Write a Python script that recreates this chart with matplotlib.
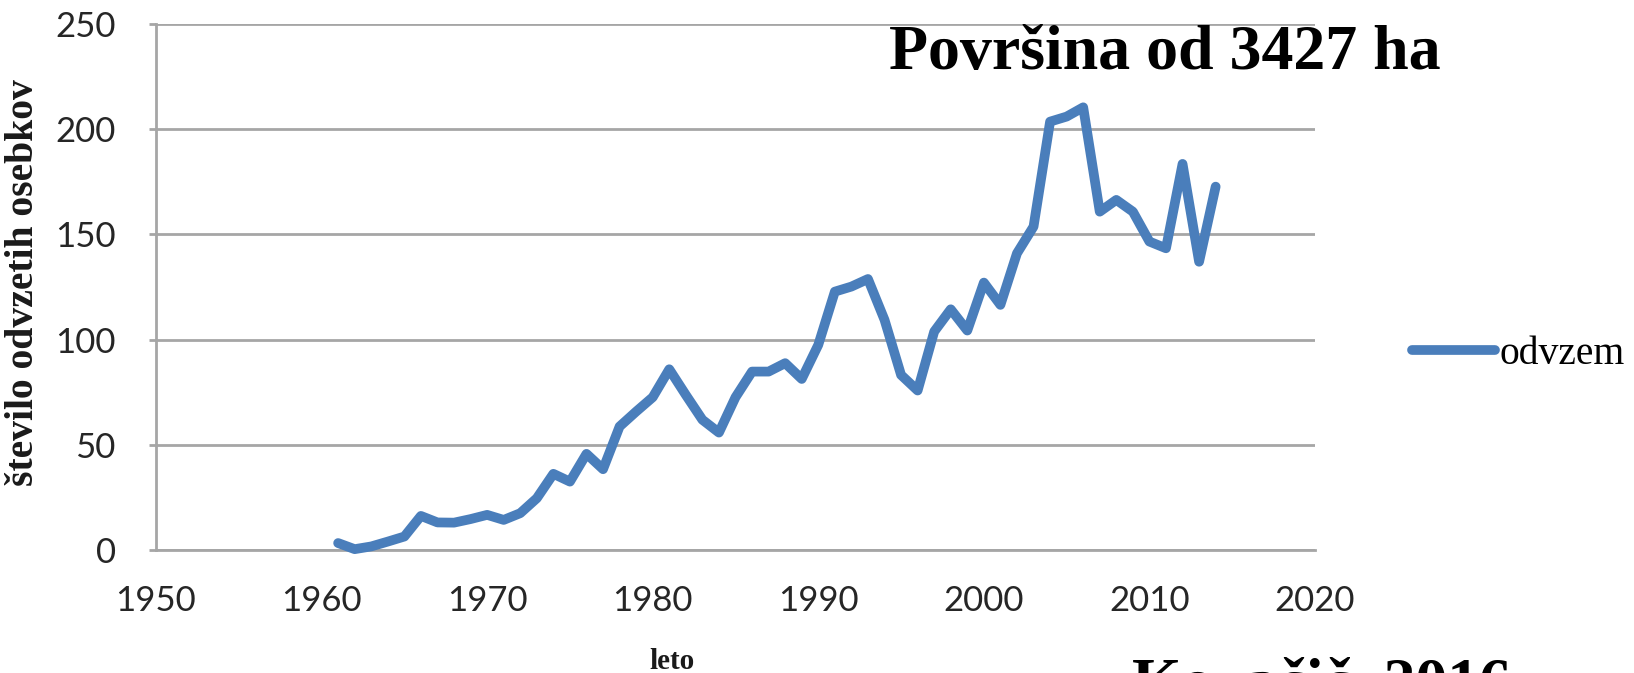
import matplotlib
matplotlib.use("Agg")
import matplotlib.pyplot as plt

years = list(range(1961, 2015))
odvzem = [3.3, 0.4, 1.7, 4.0, 6.4, 16.2, 13.1, 13.0, 14.7, 16.7,
          14.3, 17.5, 24.6, 36.2, 32.5, 45.7, 38.4, 58.7, 65.8, 72.6,
          85.9, 73.7, 61.9, 55.8, 72.6, 84.8, 84.8, 88.8, 81.3, 97.5,
          122.8, 125.2, 128.8, 109.4, 83.2, 75.8, 103.8, 114.4, 104.3, 127.1,
          116.5, 141.0, 153.7, 203.6, 206.0, 210.4, 160.8, 166.4, 160.8, 146.6,
          143.4, 183.5, 137.0, 172.7]
x_ticks = [1950, 1960, 1970, 1980, 1990, 2000, 2010, 2020]
y_ticks = [0, 50, 100, 150, 200, 250]

W, H = 1634, 673
fig = plt.figure(figsize=(W / 100, H / 100), dpi=100)
ax = fig.add_axes([156 / W, 1 - 550 / H, (1315 - 156) / W, (550 - 24) / H])

line_color = "#4A7EBB"
grid_color = "#A6A6A6"
ax.plot(years, odvzem, color=line_color, lw=7, solid_joinstyle="round",
        solid_capstyle="round", label="odvzem", zorder=3, clip_on=False)

ax.set_xlim(1950, 2020)
ax.set_ylim(0, 250)
ax.set_xticks(x_ticks)
ax.set_yticks(y_ticks)
ax.yaxis.grid(True, color=grid_color, lw=2)
ax.set_axisbelow(True)
for s in ["top", "right"]:
    ax.spines[s].set_visible(False)
for s in ["left", "bottom"]:
    ax.spines[s].set_color(grid_color)
    ax.spines[s].set_linewidth(2)

tick_font = dict(family="Lato", size=25, color="#262626")
ax.set_xticklabels([str(v) for v in x_ticks], **tick_font)
ax.set_yticklabels([str(v) for v in y_ticks], **tick_font)
ax.tick_params(axis="x", length=0, pad=25)
ax.tick_params(axis="y", length=5, width=2, color=grid_color, pad=24)

serif = "Liberation Serif"
ax.set_xlabel("leto", family=serif, weight="bold", size=21, color="#1a1a1a", va="top")
ax.xaxis.set_label_coords(0.445, -0.187)
ax.set_ylabel("število odvzetih osebkov", family=serif, weight="bold", size=28.5, color="#1a1a1a")
ax.yaxis.set_label_coords(-0.098, 0.508)

leg = fig.legend(loc="center left", bbox_to_anchor=(1412 / W, 1 - 354 / H), frameon=False,
                 prop=dict(family=serif, size=28.5), handlelength=2.1, handletextpad=0.12,
                 borderpad=0, borderaxespad=0)

fig.text(889 / W, 1 - 69 / H, "Površina od 3427 ha", family=serif, weight="bold",
         size=46, color="black", ha="left", va="baseline")
fig.text(1132 / W, 1 - 702 / H, "Kovačič, 2016", family=serif, weight="bold",
         size=46, color="black", ha="left", va="baseline")

fig.savefig("out.png", dpi=100)
